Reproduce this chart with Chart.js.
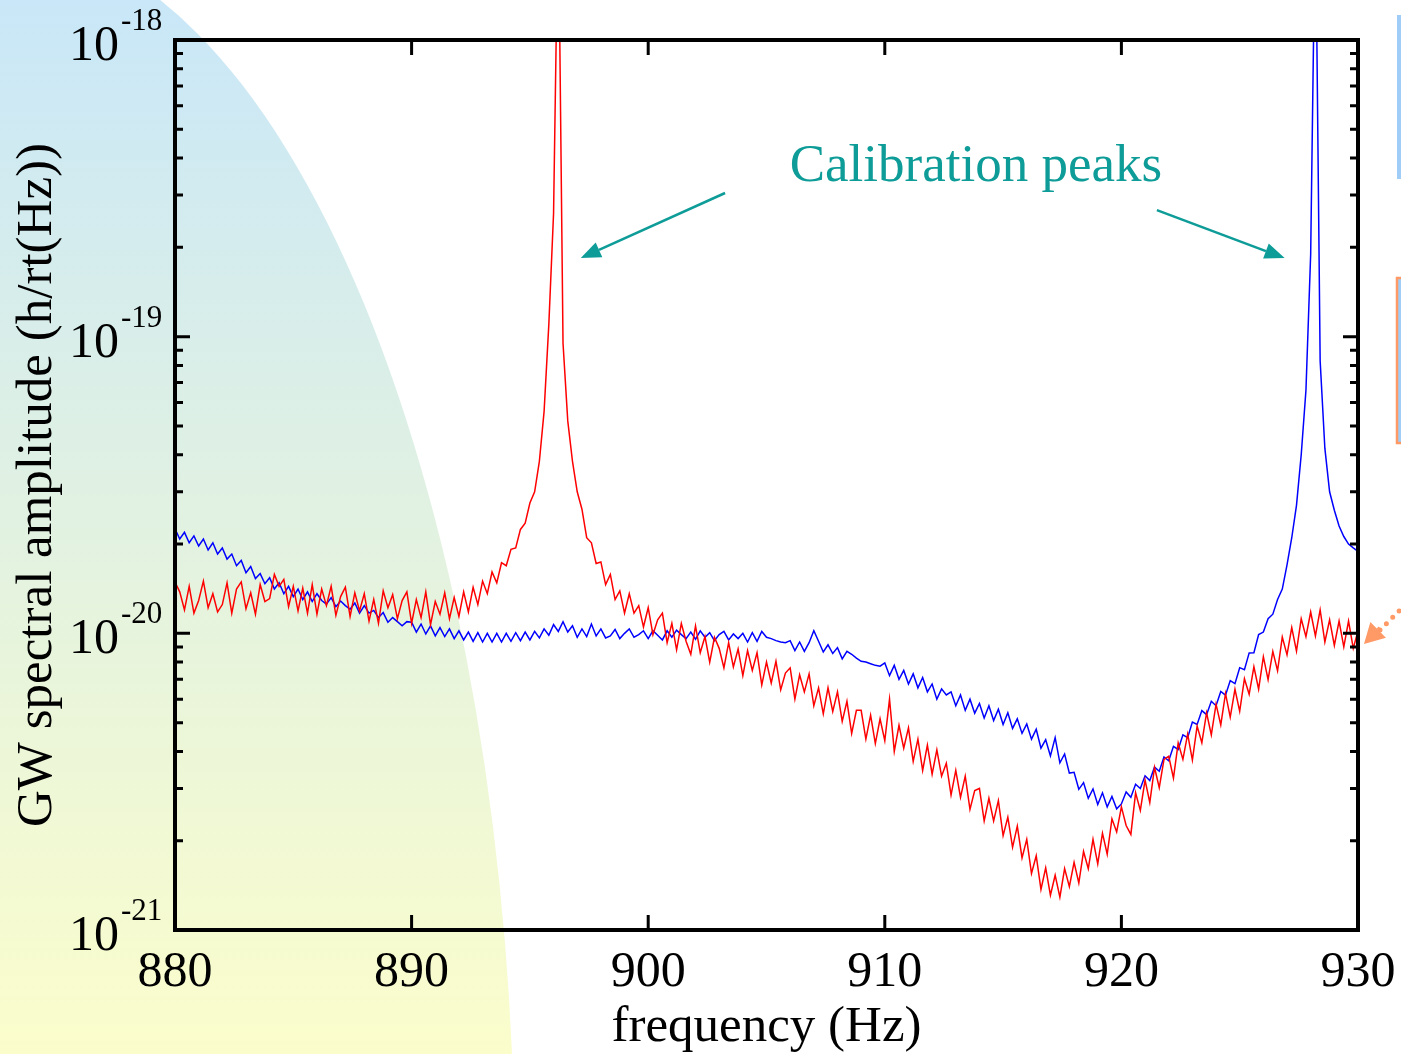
<!DOCTYPE html>
<html>
<head>
<meta charset="utf-8">
<title>GW spectral amplitude</title>
<script src="https://cdn.jsdelivr.net/npm/chart.js@4.4.1/dist/chart.umd.min.js"></script>
<style>
  html, body { margin: 0; padding: 0; background: #fff; }
  #wrap { width: 1401px; height: 1054px; position: relative; }
</style>
</head>
<body>
<div id="wrap"><canvas id="psd"></canvas></div>
<script>
// frequency grid of both spectra (Hz)
const freqStart = 880;
const freqStep = 0.2;

// spectral amplitude, in units of 1e-21 /rt(Hz)
const redAmp = [
  14.9, 13.8, 12.0, 14.4, 11.7, 12.9, 15.0, 12.2, 13.6, 11.8,
  12.5, 14.8, 11.7, 14.1, 14.9, 12.1, 13.7, 11.6, 14.6, 12.8,
  13.1, 15.8, 14.4, 15.2, 12.3, 14.4, 11.9, 14.2, 11.7, 14.6,
  11.6, 14.1, 12.4, 14.4, 11.5, 13.3, 14.3, 11.4, 13.7, 11.9,
  13.6, 11.0, 13.0, 10.8, 13.9, 12.2, 13.5, 11.2, 12.9, 13.8,
  10.8, 13.0, 11.3, 13.8, 10.7, 12.8, 11.6, 13.7, 11.2, 13.2,
  11.4, 13.8, 11.8, 14.3, 12.5, 15.0, 13.6, 16.1, 14.8, 17.3,
  16.9, 19.2, 19.4, 22.4, 23.5, 27.5, 30, 38, 56, 110,
  260, 3000, 95, 52, 38, 30, 26.2, 21.0, 20.2, 17.2,
  17.4, 14.6, 15.8, 13.0, 13.9, 11.7, 13.6, 11.7, 12.4, 10.5,
  12.2, 9.9, 11.1, 11.7, 9.3, 10.8, 8.8, 10.8, 9.4, 8.5,
  10.6, 8.6, 9.75, 8.0, 9.7, 8.9, 7.65, 9.3, 7.7, 8.85,
  7.2, 8.75, 7.5, 8.6, 6.7, 8.0, 6.8, 8.05, 6.45, 7.35,
  7.65, 6.0, 7.25, 6.35, 7.3, 5.7, 6.55, 5.35, 6.55, 5.45,
  6.35, 5.05, 5.9, 4.6, 5.5, 5.5, 4.4, 5.3, 4.25, 5.15,
  4.35, 6.0, 4.0, 4.9, 4.1, 4.8, 3.7, 4.4, 3.45, 4.2,
  3.35, 4.05, 3.3, 3.65, 2.85, 3.45, 2.8, 3.3, 2.55, 2.95,
  3.0, 2.33, 2.78, 2.33, 2.73, 2.08, 2.4, 1.9, 2.24, 1.75,
  2.02, 1.55, 1.78, 1.37, 1.62, 1.31, 1.53, 1.29, 1.61, 1.4,
  1.69, 1.44, 1.84, 1.61, 2.02, 1.67, 2.12, 1.8, 2.37, 2.14,
  2.6, 2.25, 2.1, 2.9, 2.53, 3.2, 2.69, 3.53, 3.02, 3.76,
  3.85, 3.25, 4.27, 3.76, 4.57, 3.74, 4.87, 4.28, 5.4, 4.55,
  5.77, 4.91, 6.27, 5.22, 6.48, 5.46, 7.03, 6.23, 7.71, 6.48,
  8.34, 6.98, 8.69, 7.48, 9.71, 8.46, 10.45, 8.71, 11.2, 9.75,
  11.8, 9.8, 12.0, 9.35, 11.1, 9.1, 11.0, 9.0, 11.0, 8.9,
  10.2
];

const blueAmp = [
  22.5, 20.8, 21.9, 20.2, 21.3, 19.7, 20.8, 19.1, 20.2, 18.5,
  19.4, 17.8, 18.5, 16.9, 17.6, 16.0, 16.8, 15.3, 15.9, 14.7,
  15.4, 14.1, 14.8, 13.6, 14.4, 13.3, 14.1, 13.0, 13.8, 12.8,
  13.6, 12.9, 12.55, 13.2, 12.3, 12.85, 12.4, 12.05, 12.65, 11.7,
  12.4, 11.7, 11.95, 11.3, 11.75, 10.9, 11.3, 10.95, 10.6, 10.95,
  10.9, 10.1, 10.75, 9.95, 10.6, 9.8, 10.45, 9.75, 10.35, 9.6,
  10.2, 9.5, 10.1, 9.4, 10.05, 9.35, 10.0, 9.35, 10.0, 9.35,
  10.0, 9.4, 10.05, 9.45, 10.1, 9.5, 10.15, 9.65, 10.35, 9.85,
  10.7, 10.15, 10.95, 10.1, 10.6, 9.7, 10.35, 9.75, 10.75, 9.8,
  10.35, 9.65, 9.8, 10.3, 9.6, 10.0, 10.35, 9.7, 9.9, 10.2,
  9.6, 10.2, 9.85, 9.5, 10.2, 9.7, 10.25, 9.9, 9.6, 10.1,
  9.55, 10.2, 9.7, 10.05, 9.45, 9.9, 10.15, 9.5, 9.95, 9.6,
  10.0, 9.35, 10.05, 9.4, 10.15, 9.7, 9.6, 9.45, 9.35, 9.3,
  9.45, 8.75, 9.35, 8.7, 9.3, 10.2, 9.4, 8.65, 9.15, 8.55,
  8.95, 8.2, 8.7, 8.5, 8.25, 8.05, 8.0, 7.9, 7.8, 7.75,
  7.95, 7.2, 7.8, 7.0, 7.5, 6.75, 7.3, 6.55, 7.1, 6.35,
  6.75, 6.0, 6.5, 6.2, 6.35, 5.7, 6.2, 5.5, 6.0, 5.38,
  5.8, 5.18, 5.7, 5.08, 5.55, 4.93, 5.4, 4.78, 5.15, 4.6,
  4.95, 4.4, 4.75, 4.1, 4.38, 3.86, 4.45, 3.66, 3.92, 3.38,
  3.4, 2.98, 3.14, 2.78, 2.99, 2.65, 2.9, 2.6, 2.82, 2.56,
  2.66, 2.92, 2.8, 3.1, 3.0, 3.31, 3.19, 3.54, 3.43, 3.83,
  3.72, 4.16, 4.06, 4.55, 4.45, 5.02, 4.93, 5.49, 5.32, 5.9,
  5.7, 6.37, 6.19, 6.93, 6.77, 7.66, 7.54, 8.59, 8.6, 9.9,
  10.1, 11.2, 11.6, 13.0, 14.1, 17, 21, 27, 40, 66,
  190, 3000, 83, 42, 30, 26, 23, 21.2, 20.0, 19.4,
  18.9
];

const xTicks = [880, 890, 900, 910, 920, 930];
const yDecades = [-21, -20, -19, -18];
const minorSteps = [2, 3, 4, 5, 6, 7, 8, 9];

// "Calibration peaks" note and its two arrows, in data coordinates (Hz, amplitude)
const noteText = 'Calibration peaks';
const notePos = [913.85, 3.35e-19];
const noteArrows = [
  [[903.25, 3.05e-19], [897.15, 1.84e-19]],
  [[921.5, 2.67e-19], [926.9, 1.84e-19]]
];

const serif = '"Liberation Serif", "Times New Roman", serif';
const teal = '#0e9c98';

function toPoints(amp) {
  return amp.map((v, i) => ({ x: freqStart + i * freqStep, y: v * 1e-21 }));
}

function arrow(ctx, x0, y0, x1, y1, color, width, len, half) {
  const a = Math.atan2(y1 - y0, x1 - x0);
  const bx = x1 - len * Math.cos(a), by = y1 - len * Math.sin(a);
  ctx.strokeStyle = color;
  ctx.fillStyle = color;
  ctx.lineWidth = width;
  ctx.beginPath();
  ctx.moveTo(x0, y0);
  ctx.lineTo(bx, by);
  ctx.stroke();
  ctx.beginPath();
  ctx.moveTo(x1, y1);
  ctx.lineTo(bx + half * Math.sin(a), by - half * Math.cos(a));
  ctx.lineTo(bx - half * Math.sin(a), by + half * Math.cos(a));
  ctx.closePath();
  ctx.fill();
}

const slideDecor = {
  id: 'slideDecor',
  beforeDraw(chart) {
    const ctx = chart.ctx;
    const w = chart.width, h = chart.height;
    ctx.save();
    ctx.fillStyle = '#fff';
    ctx.fillRect(0, 0, w, h);

    // pale slide panel on the left
    const g = ctx.createLinearGradient(0, 0, 0, h);
    g.addColorStop(0, '#c9e7f8');
    g.addColorStop(1, '#fbfdcb');
    ctx.fillStyle = g;
    ctx.beginPath();
    ctx.ellipse(0, 1188, 515, 1250, 0, 0, Math.PI * 2);
    ctx.fill();

    // edges of other slide items cut by the right border
    ctx.fillStyle = '#9fcdf7';
    ctx.fillRect(1397, 15, 8, 164);
    ctx.fillRect(1397, 278, 8, 165);
    ctx.strokeStyle = '#ff9966';
    ctx.lineWidth = 2.5;
    ctx.strokeRect(1397, 278, 10, 165);

    ctx.strokeStyle = '#ff9966';
    ctx.lineWidth = 5;
    ctx.lineCap = 'round';
    ctx.setLineDash([0, 9]);
    ctx.beginPath();
    ctx.moveTo(1380, 630);
    ctx.lineTo(1404, 606);
    ctx.stroke();
    ctx.setLineDash([]);
    ctx.lineCap = 'butt';
    arrow(ctx, 1380, 628, 1364, 644, '#ff9966', 4, 20, 11);
    ctx.restore();
  },
  afterDatasetsDraw(chart) {
    const ctx = chart.ctx;
    const xs = chart.scales.x, ys = chart.scales.y;
    const { left, right, top, bottom } = chart.chartArea;
    ctx.save();

    // inward ticks
    ctx.strokeStyle = '#000';
    ctx.lineWidth = 3;
    ctx.beginPath();
    yDecades.forEach(d => {
      const y = ys.getPixelForValue(Math.pow(10, d));
      ctx.moveTo(left, y); ctx.lineTo(left + 15, y);
      ctx.moveTo(right, y); ctx.lineTo(right - 15, y);
      if (d < -18) {
        minorSteps.forEach(m => {
          const ym = ys.getPixelForValue(m * Math.pow(10, d));
          ctx.moveTo(left, ym); ctx.lineTo(left + 8, ym);
          ctx.moveTo(right, ym); ctx.lineTo(right - 8, ym);
        });
      }
    });
    xTicks.forEach(v => {
      const x = xs.getPixelForValue(v);
      ctx.moveTo(x, bottom); ctx.lineTo(x, bottom - 15);
      ctx.moveTo(x, top); ctx.lineTo(x, top + 15);
    });
    ctx.stroke();

    // frame
    ctx.lineWidth = 4;
    ctx.strokeRect(left, top, right - left, bottom - top);

    // tick labels
    ctx.fillStyle = '#000';
    ctx.font = '50px ' + serif;
    ctx.textAlign = 'center';
    ctx.textBaseline = 'alphabetic';
    xTicks.forEach(v => {
      ctx.fillText(String(v), xs.getPixelForValue(v), 986);
    });
    yDecades.forEach(d => {
      const y = ys.getPixelForValue(Math.pow(10, d));
      ctx.font = '50px ' + serif;
      ctx.textAlign = 'right';
      ctx.fillText('10', 119, y + 20);
      ctx.font = '31px ' + serif;
      ctx.textAlign = 'left';
      ctx.fillText(String(d), 121, y - 10);
    });

    // note
    ctx.fillStyle = teal;
    ctx.font = '53px ' + serif;
    ctx.textAlign = 'center';
    ctx.fillText(noteText, xs.getPixelForValue(notePos[0]), ys.getPixelForValue(notePos[1]));
    noteArrows.forEach(([from, to]) => {
      arrow(ctx,
        xs.getPixelForValue(from[0]), ys.getPixelForValue(from[1]),
        xs.getPixelForValue(to[0]), ys.getPixelForValue(to[1]),
        teal, 2.5, 20, 8);
    });
    ctx.restore();
  }
};

new Chart(document.getElementById('psd'), {
  type: 'line',
  data: {
    datasets: [
      {
        label: 'red',
        data: toPoints(redAmp),
        borderColor: '#ff0000',
        borderWidth: 1.5,
        pointRadius: 0
      },
      {
        label: 'blue',
        data: toPoints(blueAmp),
        borderColor: '#0000ff',
        borderWidth: 1.5,
        pointRadius: 0
      }
    ]
  },
  options: {
    responsive: true,
    maintainAspectRatio: false,
    animation: false,
    layout: { padding: { top: 40, right: 43, left: 0, bottom: 0 } },
    plugins: {
      legend: { display: false },
      tooltip: { enabled: false }
    },
    scales: {
      x: {
        type: 'linear',
        min: 880,
        max: 930,
        grid: { display: false },
        border: { display: false },
        ticks: { display: false },
        title: {
          display: true,
          text: 'frequency (Hz)',
          color: '#000',
          font: { family: serif, size: 51, lineHeight: 1 },
          padding: { top: 0, bottom: 1 }
        },
        afterFit(scale) { scale.height = 124; }
      },
      y: {
        type: 'logarithmic',
        min: 1e-21,
        max: 1e-18,
        grid: { display: false },
        border: { display: false },
        ticks: { display: false },
        title: {
          display: true,
          text: 'GW spectral amplitude (h/rt(Hz))',
          color: '#000',
          font: { family: serif, size: 51, lineHeight: 1 },
          padding: { top: 12, bottom: 0 }
        },
        afterFit(scale) { scale.width = 175; }
      }
    }
  },
  plugins: [slideDecor]
});
</script>
</body>
</html>
